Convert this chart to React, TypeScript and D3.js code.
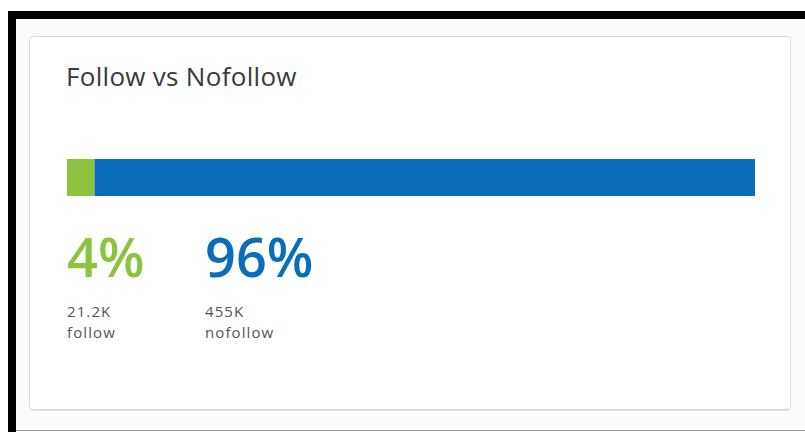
import React from 'react';
import * as d3 from 'd3';

const categories = ['follow', 'nofollow'];
const percents = [4, 96];
const counts = ['21.2K', '455K'];
const colors = ['#8cc43f', '#0a6dbb'];

const W = 805;
const H = 432;
const font = '"Open Sans", sans-serif';

function App() {
  const barLeft = 67;
  const barRight = 755;
  const barTop = 159;
  const barH = 37;

  const x = d3.scaleLinear().domain([0, d3.sum(percents)]).range([barLeft, barRight]);
  const starts = d3.cumsum([0, ...percents]);

  // columns of the figures under the bar
  const colX = d3.scaleLinear().domain([0, 1]).range([67, 205]);

  return (
    <div style={{ position: 'fixed', left: 0, top: 0 }}>
      <svg width={W} height={H} style={{ display: 'block', background: '#fff' }}>
        {/* outer frame */}
        <rect x={8} y={11} width={W - 8} height={H - 11} fill="#fcfcfc" />
        <rect x={8} y={11} width={W - 8} height={8} fill="#000" />
        <rect x={8} y={11} width={8} height={H - 11} fill="#000" />
        <line x1={16} x2={W} y1={430.5} y2={430.5} stroke="#999" strokeWidth={1} />

        {/* card */}
        <rect x={29.5} y={36.5} width={761} height={373} rx={3} fill="#fff" stroke="#d9d9d9" strokeWidth={1} />
        <line x1={31} x2={789} y1={410.5} y2={410.5} stroke="#e6e6e6" strokeWidth={1} />

        <text x={66} y={86} fontFamily={font} fontSize={26} fill="#3a3a3a" letterSpacing={0.3}>
          Follow vs Nofollow
        </text>

        {percents.map((p, i) => (
          <rect
            key={categories[i]}
            x={x(starts[i])}
            y={barTop}
            width={x(starts[i] + p) - x(starts[i])}
            height={barH}
            fill={colors[i]}
          />
        ))}

        {categories.map((c, i) => (
          <g key={c} transform={`translate(${colX(i)},0)`}>
            <text y={277} fontFamily={font} fontSize={54} fontWeight={600} fill={colors[i]}>
              {percents[i]}%
            </text>
            <text y={317} fontFamily={font} fontSize={15} fill="#555" letterSpacing={1.1}>
              {counts[i]}
            </text>
            <text y={338} fontFamily={font} fontSize={15} fill="#555" letterSpacing={1.1}>
              {c}
            </text>
          </g>
        ))}
      </svg>
    </div>
  );
}

export default App;
